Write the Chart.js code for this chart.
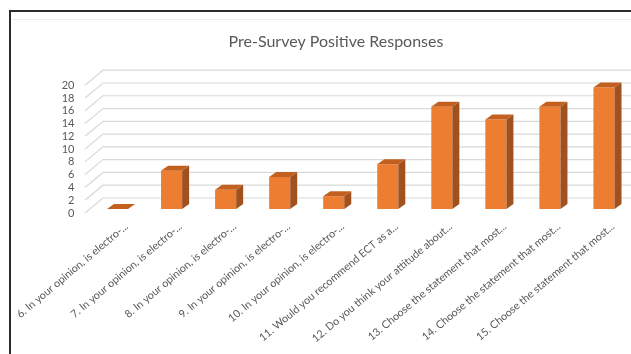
<!DOCTYPE html>
<html>
<head>
<meta charset="utf-8">
<script src="https://cdn.jsdelivr.net/npm/chart.js@4/dist/chart.umd.min.js"></script>
<style>
  html, body { margin: 0; padding: 0; background: #ffffff; }
  #wrap { position: relative; width: 631px; height: 354px; }
  canvas { display: block; }
</style>
</head>
<body>
<div id="wrap"><canvas id="chart" width="631" height="354"></canvas></div>
<script>
// Survey questions (truncated as displayed) and count of positive answers
const categories = [
  "6. In your opinion, is electro-...",
  "7. In your opinion, is electro-...",
  "8. In your opinion, is electro-...",
  "9. In your opinion, is electro-...",
  "10. In your opinion, is electro-...",
  "11. Would you recommend ECT as a...",
  "12. Do you think your attitude about...",
  "13. Choose the statement that most...",
  "14. Choose the statement that most...",
  "15. Choose the statement that most..."
];
const positiveResponses = [0, 6, 3, 5, 2, 7, 16, 14, 16, 19];
const yTicks = [0, 2, 4, 6, 8, 10, 12, 14, 16, 18, 20];

const FRONT = '#ED7D31';
const TOP = '#C3601F';
const SIDE = '#A0511E';
const GRID = '#d9d9d9';
const TEXT = '#595959';
const FONT = 'Lato, "Open Sans", sans-serif';

// bar depth (pseudo-3D extrusion)
const BAR_DX = 7, BAR_DY = -5;
// floor / back wall geometry for the gridlines
const WALL_FRONT_DX = -5.5, WALL_FRONT_DY = 4;
const WALL_BACK_DX = 12.5, WALL_BACK_DY = -11;

const framePlugin = {
  id: 'frame',
  beforeDraw(chart) {
    const ctx = chart.ctx;
    ctx.save();
    ctx.fillStyle = '#ffffff';
    ctx.fillRect(0, 0, chart.width, chart.height);
    // outer dark frame
    ctx.strokeStyle = '#2b2b2b';
    ctx.lineWidth = 2;
    ctx.beginPath();
    ctx.moveTo(chart.width, 11);
    ctx.lineTo(10, 11);
    ctx.lineTo(10, chart.height);
    ctx.stroke();
    // inner light chart border
    ctx.strokeStyle = '#ececec';
    ctx.lineWidth = 1;
    ctx.beginPath();
    ctx.moveTo(chart.width, 19.5);
    ctx.lineTo(12, 19.5);
    ctx.stroke();
    ctx.restore();
  }
};

const gridPlugin = {
  id: 'grid3d',
  beforeDatasetsDraw(chart) {
    const ctx = chart.ctx;
    const y = chart.scales.y;
    const left = chart.chartArea.left;
    const right = chart.width;
    ctx.save();
    ctx.strokeStyle = GRID;
    ctx.lineWidth = 1.2;
    yTicks.forEach(v => {
      const py = y.getPixelForValue(v);
      ctx.beginPath();
      ctx.moveTo(left + WALL_FRONT_DX, py + WALL_FRONT_DY);
      ctx.lineTo(left + WALL_BACK_DX, py + WALL_BACK_DY);
      ctx.lineTo(right, py + WALL_BACK_DY);
      ctx.stroke();
    });
    ctx.restore();
  }
};

const extrudePlugin = {
  id: 'extrude',
  afterDatasetsDraw(chart) {
    const ctx = chart.ctx;
    const meta = chart.getDatasetMeta(0);
    ctx.save();
    meta.data.forEach(bar => {
      const p = bar.getProps(['x', 'y', 'base', 'width'], true);
      const l = p.x - p.width / 2, r = p.x + p.width / 2;
      const t = Math.min(p.y, p.base), b = p.base;
      // top face
      ctx.fillStyle = TOP;
      ctx.beginPath();
      ctx.moveTo(l, t);
      ctx.lineTo(l + BAR_DX, t + BAR_DY);
      ctx.lineTo(r + BAR_DX, t + BAR_DY);
      ctx.lineTo(r, t);
      ctx.closePath();
      ctx.fill();
      // side face
      if (b - t > 0.5) {
        ctx.fillStyle = SIDE;
        ctx.beginPath();
        ctx.moveTo(r, t);
        ctx.lineTo(r + BAR_DX, t + BAR_DY);
        ctx.lineTo(r + BAR_DX, b + BAR_DY);
        ctx.lineTo(r, b);
        ctx.closePath();
        ctx.fill();
      }
    });
    ctx.restore();
  }
};

new Chart(document.getElementById('chart'), {
  type: 'bar',
  data: {
    labels: categories,
    datasets: [{
      label: 'Positive Responses',
      data: positiveResponses,
      backgroundColor: FRONT,
      borderWidth: 0,
      categoryPercentage: 1,
      barPercentage: 0.39
    }]
  },
  options: {
    responsive: false,
    animation: false,
    layout: { padding: { left: 41, right: 0, top: 0, bottom: 0 } },
    plugins: {
      legend: { display: false },
      tooltip: { enabled: false },
      title: {
        display: true,
        text: 'Pre-Survey Positive Responses',
        color: TEXT,
        font: { family: FONT, size: 16, weight: 'normal' },
        padding: { top: 32, bottom: 30 }
      }
    },
    scales: {
      x: {
        grid: { display: false, drawTicks: false },
        border: { display: false },
        ticks: {
          autoSkip: false,
          minRotation: 40,
          maxRotation: 40,
          padding: 11,
          labelOffset: 9,
          color: TEXT,
          font: { family: FONT, size: 10.7 }
        },
        afterFit(scale) {
          scale.height = 145;
          scale.paddingLeft = 0;
          scale.paddingRight = 0;
        }
      },
      y: {
        min: 0,
        max: 20,
        grid: { display: false, drawTicks: false },
        border: { display: false },
        ticks: {
          stepSize: 2,
          autoSkip: false,
          padding: 16,
          labelOffset: 4,
          color: TEXT,
          font: { family: FONT, size: 11 }
        },
        afterFit(scale) {
          scale.width = 49.5;
          scale.paddingTop = 0;
          scale.paddingBottom = 0;
        }
      }
    }
  },
  plugins: [framePlugin, gridPlugin, extrudePlugin]
});
</script>
</body>
</html>
